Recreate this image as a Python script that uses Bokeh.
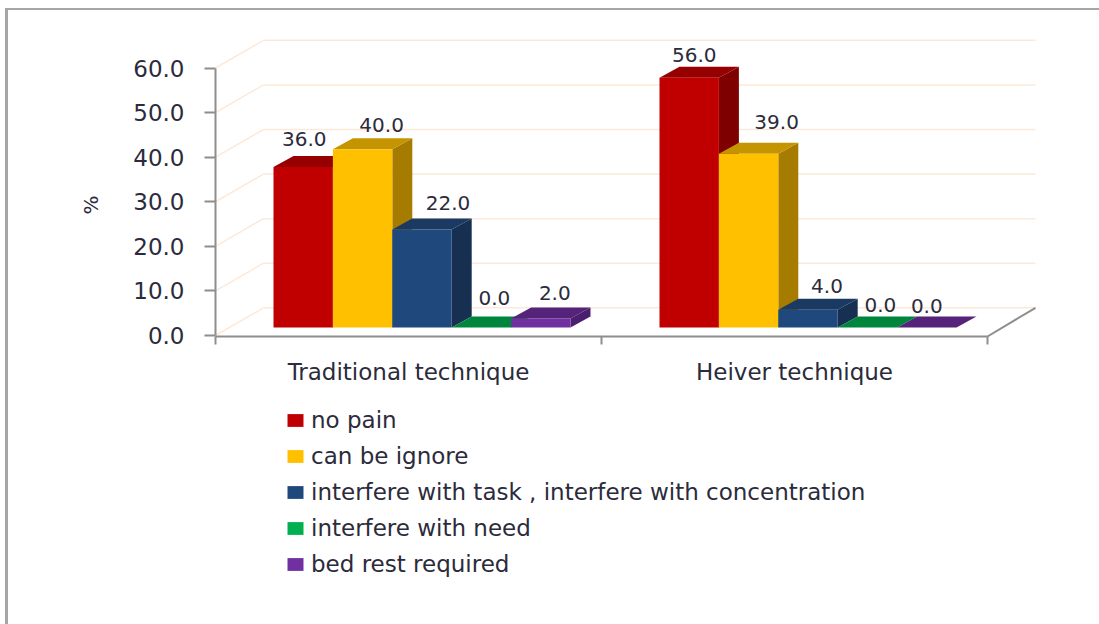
from bokeh.plotting import figure
from bokeh.embed import file_html
from bokeh.resources import INLINE
from bokeh.models import (Range1d, FixedTicker, NumeralTickFormatter, Legend, LegendItem,
                          ColumnDataSource)
from bokeh.core.properties import value

categories = ["Traditional technique", "Heiver technique"]
series_names = ["no pain", "can be ignore",
                "interfere with task , interfere with concentration",
                "interfere with need", "bed rest required"]
no_pain = [36.0, 56.0]
can_be_ignore = [40.0, 39.0]
interfere_task = [22.0, 4.0]
interfere_need = [0.0, 0.0]
bed_rest = [2.0, 0.0]
series_values = [no_pain, can_be_ignore, interfere_task, interfere_need, bed_rest]
y_ticks = [0, 10, 20, 30, 40, 50, 60]
y_title = "%"

front_colors = ["#c00000", "#ffc000", "#1f497d", "#00b050", "#7030a0"]
top_colors = ["#960000", "#c49500", "#1a3a63", "#00863c", "#55247a"]
side_colors = ["#7f0000", "#a67c00", "#172f50", "#006b30", "#4b1f6f"]
label_dx = [[1, 5], [19, 28], [26, 19], [13, 13], [14, 0]]
label_dy = [[28, 23], [24, 32], [26, 24], [30, 23], [26, 22]]

PX_X = 386.0
PX_Y = 4.458
WALL_DX, WALL_DY = 48 / PX_X, 27.7 / PX_Y
BAR_DX, BAR_DY = 20 / PX_X, 11 / PX_Y
FLOOR = 8 / PX_Y
BAR_START, BAR_W = 58 / PX_X, 59.4 / PX_X

W, H = 1099, 624
FRAME_L, FRAME_B = 75, 580
AX_X, AX_Y0, AX_Y = 215, 335, 336
x_range = Range1d((FRAME_L - AX_X) / PX_X, (W - AX_X) / PX_X)
y_range = Range1d((AX_Y0 - FRAME_B) / PX_Y, AX_Y0 / PX_Y)

p = figure(width=W, height=H, x_range=x_range, y_range=y_range, output_backend="svg",
           toolbar_location=None, min_border_left=FRAME_L, min_border_bottom=H - FRAME_B,
           min_border_top=0, min_border_right=0)
p.outline_line_color = None
p.xgrid.visible = False
p.ygrid.visible = False
p.border_fill_color = None
p.background_fill_color = None
BORDER = "#a6a6a6"
p.styles = {"background": f"linear-gradient({BORDER},{BORDER}) 5px 8px/3px 100% no-repeat,"
                          f"linear-gradient({BORDER},{BORDER}) 5px 8px/100% 2px no-repeat"}

FONT = "DejaVu Sans"
TXT = "#2b2b3b"
AXC = "#8e8e8e"

ya = p.yaxis[0]
ya.fixed_location = 0
ya.ticker = FixedTicker(ticks=y_ticks)
ya.bounds = (0, 60)
ya.formatter = NumeralTickFormatter(format="0.0")
ya.axis_line_color = AXC
ya.axis_line_width = 2
ya.major_tick_line_color = AXC
ya.major_tick_line_width = 2
ya.major_tick_out = 11
ya.major_tick_in = 0
ya.major_label_standoff = 20
ya.major_label_text_font = FONT
ya.major_label_text_font_size = "23px"
ya.major_label_text_color = TXT

xa = p.xaxis[0]
xa.fixed_location = (AX_Y0 - AX_Y) / PX_Y
xa.ticker = FixedTicker(ticks=[0.5, 1.5], minor_ticks=[0, 1, 2])
xa.bounds = (0, 2)
xa.major_label_overrides = {0.5: categories[0], 1.5: categories[1]}
xa.axis_line_color = AXC
xa.axis_line_width = 2
xa.major_tick_line_color = None
xa.major_tick_out = 0
xa.major_tick_in = 0
xa.minor_tick_line_color = AXC
xa.minor_tick_line_width = 2
xa.minor_tick_out = 8
xa.minor_tick_in = 0
xa.major_label_standoff = 14
xa.major_label_text_font = FONT
xa.major_label_text_font_size = "23px"
xa.major_label_text_color = TXT

GRID = "#fde9d9"
p.segment(x0=[0] * len(y_ticks), y0=y_ticks, x1=[WALL_DX] * len(y_ticks),
          y1=[t + WALL_DY for t in y_ticks], line_color=GRID, line_width=1.5)
p.segment(x0=[WALL_DX] * len(y_ticks), y0=[t + WALL_DY for t in y_ticks],
          x1=[2 + WALL_DX] * len(y_ticks), y1=[t + WALL_DY for t in y_ticks],
          line_color=GRID, line_width=1.5)
p.line([2, 2 + WALL_DX], [-1 / PX_Y, WALL_DY], line_color=AXC, line_width=2)

legend_items = []
lx, ly, ltxt, lox, loy = [], [], [], [], []
for s, vals in enumerate(series_values):
    lefts = [g + BAR_START + s * BAR_W for g in range(len(vals))]
    rights = [l + BAR_W for l in lefts]
    tops = [FLOOR + v for v in vals]
    side_x = [[r, r + BAR_DX, r + BAR_DX, r] for r in rights]
    side_y = [[FLOOR, FLOOR + BAR_DY, t + BAR_DY, t] for t in tops]
    top_x = [[l, l + BAR_DX, r + BAR_DX, r] for l, r in zip(lefts, rights)]
    top_y = [[t, t + BAR_DY, t + BAR_DY, t] for t in tops]
    p.patches(side_x, side_y, fill_color=side_colors[s], line_color=None)
    p.patches(top_x, top_y, fill_color=top_colors[s], line_color=None)
    r = p.vbar(x=[(l + q) / 2 for l, q in zip(lefts, rights)], width=BAR_W, bottom=FLOOR, top=tops,
               fill_color=front_colors[s], line_color=None)
    legend_items.append(LegendItem(label=series_names[s], renderers=[r]))
    for g, v in enumerate(vals):
        lx.append((lefts[g] + rights[g]) / 2)
        ly.append(tops[g])
        ltxt.append(f"{v:.1f}")
        lox.append(label_dx[s][g])
        loy.append(-label_dy[s][g])

src = ColumnDataSource(dict(x=lx, y=ly, t=ltxt, ox=lox, oy=loy))
p.text(x="x", y="y", text="t", x_offset="ox", y_offset="oy", source=src, text_align="center",
       text_baseline="middle", text_font=value(FONT), text_font_size="20px", text_color=TXT)

# axis title, inside the frame so that it is not clipped
p.text(x=[(90 - AX_X) / PX_X], y=[(AX_Y0 - 204.5) / PX_Y], text=[y_title], angle=1.5708,
       text_align="center", text_baseline="middle", text_font=value(FONT),
       text_font_size="20px", text_color=TXT)

leg = Legend(items=legend_items, location=(285 - FRAME_L, 3), orientation="vertical",
             background_fill_alpha=0, border_line_color=None, padding=0, margin=0,
             spacing=10, glyph_width=20, glyph_height=16, label_standoff=6,
             label_text_font=FONT, label_text_font_size="23px", label_text_color=TXT,
             label_height=22)
p.add_layout(leg)

open("out.html", "w").write(file_html(p, INLINE))
